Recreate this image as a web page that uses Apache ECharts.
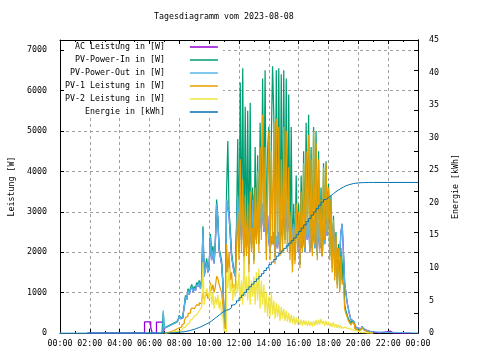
<!DOCTYPE html>
<html><head><meta charset="utf-8">
<script src="https://cdn.jsdelivr.net/npm/echarts@6/dist/echarts.min.js"></script>
<style>html,body{margin:0;padding:0;background:#fff}#c{width:480px;height:360px}</style>
</head><body><div id="c"></div>
<script>
const chartTitle = 'Tagesdiagramm vom 2023-08-08';
const seriesNames = ['AC Leistung in [W]', 'PV-Power-In in [W]', 'PV-Power-Out in [W]', 'PV-1 Leistung in [W]', 'PV-2 Leistung in [W]', 'Energie in [kWh]'];
const leftAxisName = 'Leistung [W]';
const rightAxisName = 'Energie [kWh]';
const xTickLabels = ['00:00','02:00','04:00','06:00','08:00','10:00','12:00','14:00','16:00','18:00','20:00','22:00','00:00'];

// 5-minute samples from 07:00 to 21:00 (one row per hour)
const dayStart = '07:00';
const dayStepMin = 5;

const acPower = [
 120,150,170,180,200,210,230,240,250,270,300,320,
 420,350,380,450,650,900,820,1050,950,1080,1150,1020,
 1100,1050,1200,1150,1250,1100,1300,2580,1400,1600,1750,1500,
 1650,2380,1800,2050,1720,2250,3200,2800,2050,1880,1700,1250,
 300,200,3300,3100,2900,2400,1900,1700,1500,1400,2500,3400,
 2600,3000,2300,3200,2200,2800,2100,2600,2000,2700,2200,3430,
 2530,2900,2300,3000,2500,3100,2600,3200,2500,3000,2400,2900,
 2300,2000,2400,2200,2500,1900,2400,2100,2500,2000,2800,2400,
 3300,2600,3200,2500,3000,2400,2900,2380,2700,2300,3000,2500,
 2400,1700,2500,2100,2600,2000,2700,2300,2800,2000,2600,2100,
 2800,2100,2900,2000,2700,2100,2600,1900,2700,2200,2800,2400,
 3500,2800,2900,2400,2600,2000,2300,1800,2100,1900,2500,2700,
 2000,1250,1000,750,600,450,330,300,260,200,150,120,
 110,100,130,160,110,80,60,50,65,35,30,30,
 0];
const pvPowerIn = [
 130,160,180,190,210,220,240,250,260,280,310,330,
 440,370,400,470,680,930,850,1100,980,1120,1200,1060,
 1150,1100,1250,1200,1300,1150,1350,2640,1450,1650,1850,1560,
 1700,2450,1850,2150,1800,2300,3300,2850,2100,1950,1800,1300,
 350,250,3500,4750,3000,2600,2000,1750,1550,1450,2700,4800,
 2000,6200,2200,6550,1800,5600,2000,5500,1700,5700,2100,3600,
 1800,4600,2400,4400,2200,5200,2500,6300,2800,6500,2000,4500,
 5100,2000,4800,6600,5400,1900,6500,2300,6550,2100,6400,2200,
 6500,2300,6300,2100,5900,2000,5100,1700,3200,1800,3900,2200,
 3200,1700,3900,2100,4500,2200,5200,2500,5400,2100,4600,2000,
 5100,2300,5000,1900,4500,2100,3600,2000,4200,2400,4250,2600,
 3700,1900,3400,1600,2900,1400,2500,1200,2200,1100,2100,1300,
 2000,700,550,450,350,300,250,300,260,150,100,80,
 60,80,120,150,100,60,40,30,20,15,10,10,
 0];
const pvPowerOut = [
 120,150,170,180,200,210,230,240,250,270,300,320,
 420,350,380,450,650,900,820,1050,950,1080,1150,1020,
 1100,1050,1200,1150,1250,1100,1300,2580,1400,1600,1750,1500,
 1650,2380,1800,2050,1720,2250,3200,2800,2050,1880,1700,1250,
 300,200,3300,3100,2900,2400,1900,1700,1500,1400,2500,3400,
 2600,3000,2300,3200,2200,2800,2100,2600,2000,2700,2200,3300,
 2450,2900,2300,3000,2500,3100,2600,3200,2500,3000,2400,2900,
 2300,2000,2400,2200,2500,1900,2400,2100,2500,2000,2800,2400,
 3300,2600,3200,2500,3000,2400,2900,2250,2700,2300,3000,2500,
 2400,1700,2500,2100,2600,2000,2700,2300,2800,2000,2600,2100,
 2800,2100,2900,2000,2700,2100,2600,1900,2700,2200,2800,2400,
 3500,2800,2900,2400,2600,2000,2300,1800,2100,1900,2500,2700,
 2000,1250,1000,750,600,450,330,300,260,200,150,120,
 110,100,130,160,110,80,60,50,40,35,30,30,
 0];
const pv1Power = [
 0,0,0,20,30,40,50,60,80,100,110,130,
 130,150,200,240,300,380,420,480,500,560,620,600,
 620,650,700,680,750,720,800,1000,830,900,1000,850,
 900,1250,1050,1200,1000,1150,1400,1350,1200,1100,1000,700,
 150,100,2200,1500,2000,1300,1500,1100,1200,1000,2000,3000,
 1800,4300,2000,3800,1600,3400,1900,3200,1500,3500,2000,2600,
 1700,3600,2200,4000,2000,4600,2300,5400,2600,4600,1800,3700,
 5000,1800,4500,2200,5200,1700,5300,2100,5100,1900,4300,2000,
 5100,2200,5000,2000,4100,1800,3000,1500,2600,1700,3200,2000,
 3000,1600,3500,2000,4200,2100,4500,2400,4900,2000,4300,1900,
 5000,2200,4700,1800,4300,2000,3300,1900,4100,2300,4200,2500,
 3600,1800,3300,1500,2800,1300,2400,1100,2100,1000,1900,1200,
 1300,600,480,400,300,250,200,260,220,120,80,60,
 50,70,100,130,80,50,30,20,15,10,5,5,
 0];
const pv2Power = [
 0,0,0,10,20,20,30,30,40,40,50,50,
 60,70,90,120,150,180,200,240,280,320,360,400,
 420,450,480,500,550,600,650,1750,700,900,1100,1000,
 850,1200,700,1000,600,900,700,950,600,800,450,400,
 60,30,1500,1100,1600,1000,1300,800,1200,900,1300,1000,
 1500,800,1300,700,1900,900,1400,800,1500,700,1300,900,
 1400,700,1500,800,1600,600,1300,700,1200,500,1000,400,
 900,400,1000,450,800,350,750,400,700,300,650,350,
 600,300,550,280,500,250,450,230,420,200,380,220,
 350,200,330,180,320,200,300,170,300,180,280,160,
 300,180,320,200,330,210,350,220,300,180,300,190,
 280,160,250,150,270,140,220,130,200,120,180,110,
 150,130,120,140,110,100,80,90,70,60,50,40,
 30,20,10,20,10,5,0,0,0,0,0,0,
 0];

// 10-minute samples of the daily energy from 07:00 to 21:00
const energyStart = '07:00';
const energyStepMin = 10;
const energyKWh = [
 0.00,0.01,0.03,0.05,0.08,0.11,
 0.15,0.20,0.27,0.35,0.45,0.57,
 0.70,0.85,1.00,1.20,1.40,1.60,
 1.85,2.15,2.45,2.75,3.05,3.35,
 3.50,3.60,3.90,4.30,4.60,4.95,
 5.40,5.80,6.25,6.70,7.10,7.50,
 7.90,8.30,8.70,9.10,9.60,10.00,
 10.50,10.90,11.30,11.80,12.20,12.60,
 13.00,13.40,13.80,14.20,14.60,15.10,
 15.60,16.10,16.60,17.10,17.60,18.10,
 18.60,19.10,19.60,20.10,20.50,20.80,
 21.10,21.40,21.70,21.95,22.20,22.40,
 22.60,22.75,22.85,22.95,23.00,23.05,
 23.08,23.10,23.10,23.12,23.12,23.12,
 23.12];

// readings outside the daytime grid: [time, value]
const acNight1 = [['01:50',0],['05:40',273],['06:05',130],['06:11',0],['06:28',270],['06:55',0]];
const acNight2 = [['21:25',45],['22:10',0],['22:20',45],['22:23',0],['22:43',45],['22:46',0],['23:13',45],['23:16',0],['23:30',0]];
const pvInEarly = [['06:50',0],['06:55',500]];
const pvOutEarly = [['00:00',0],['06:55',560]];
const pvOutLate = [['24:00',0]];
const energyEarly = [['01:50',0]];
const energyLate = [['24:00',23.12]];

const colors = ['#9400d3','#009e73','#56b4e9','#e69f00','#f0e442','#0072b2'];
const FONT = 'DejaVu Sans Mono';
const FS = 8.3;

function hm(s){ const p = s.split(':').map(Number); return p[0] + p[1]/60; }
function grid(vals, start, step){ const t0 = hm(start); return vals.map((v,i)=>[t0 + i*step/60, v]); }
function pairs(list){ return list.map(p=>[hm(p[0]), p[1]]); }

const seriesData = [
  pairs(acNight1).concat(grid(acPower, dayStart, dayStepMin), pairs(acNight2)),
  pairs(pvInEarly).concat(grid(pvPowerIn, dayStart, dayStepMin)),
  pairs(pvOutEarly).concat(grid(pvPowerOut, dayStart, dayStepMin), pairs(pvOutLate)),
  grid(pv1Power, dayStart, dayStepMin),
  grid(pv2Power, dayStart, dayStepMin),
  pairs(energyEarly).concat(grid(energyKWh, energyStart, energyStepMin), pairs(energyLate))
];

const dash = {color:'#a0a0a0', width:1, type:[3,3]};
const black = {color:'#000', width:1};
const txt = {fontFamily: FONT, fontSize: FS, color:'#000'};

const chart = echarts.init(document.getElementById('c'), null, {renderer:'canvas'});
chart.setOption({
  animation:false,
  backgroundColor:'#fff',
  title:{text: chartTitle, left:154, top:13, padding:0, textStyle:Object.assign({fontWeight:'normal'}, txt)},
  grid:{left:58, right:62, top:40, bottom:27, containLabel:false},
  legend:{
    orient:'vertical', align:'right', left:65, top:42, padding:0, itemGap:3,
    itemWidth:28, itemHeight:1.5, icon:'rect', selectedMode:false,
    formatter: n => n + '    ',
    textStyle:Object.assign({lineHeight:10}, txt),
    data: seriesNames
  },
  graphic:[{type:'rect', z:1, shape:{x:64, y:46, width:159, height:72}, style:{fill:'#fff'}, silent:true}],
  xAxis:[
    {type:'value', position:'bottom', min:0, max:24, interval:2,
     axisLine:{show:true, onZero:false, lineStyle:black},
     axisTick:{show:true, inside:true, length:4, lineStyle:black},
     minorTick:{show:true, splitNumber:2, length:2, lineStyle:black},
     splitLine:{show:true, lineStyle:dash},
     axisLabel:Object.assign({margin:7, formatter:(v)=>xTickLabels[Math.round(v/2)]}, txt)},
    {type:'value', position:'top', min:0, max:24, interval:2,
     axisLine:{show:true, onZero:false, lineStyle:black},
     axisTick:{show:true, inside:true, length:4, lineStyle:black},
     minorTick:{show:true, splitNumber:2, length:2, lineStyle:black},
     splitLine:{show:false}, axisLabel:{show:false}}
  ],
  yAxis:[
    {type:'value', position:'left', min:0, max:7250, interval:1000,
     name:leftAxisName, nameLocation:'middle', nameGap:44, nameRotate:90, nameTextStyle:txt,
     axisLine:{show:true, onZero:false, lineStyle:black},
     axisTick:{show:true, inside:true, length:4, lineStyle:black},
     minorTick:{show:false},
     splitLine:{show:true, lineStyle:dash},
     axisLabel:Object.assign({margin:13, showMaxLabel:false, formatter:v=> (v%1000===0? String(v):'')}, txt)},
    {type:'value', position:'right', min:0, max:45, interval:5,
     name:rightAxisName, nameLocation:'middle', nameGap:34, nameRotate:90, nameTextStyle:txt,
     axisLine:{show:true, onZero:false, lineStyle:black},
     axisTick:{show:false}, splitLine:{show:false},
     axisLabel:Object.assign({margin:11}, txt)},
    {type:'value', position:'right', min:0, max:7250, interval:1000,
     axisLine:{show:true, onZero:false, lineStyle:black},
     axisTick:{show:true, inside:true, length:4, lineStyle:black},
     minorTick:{show:true, splitNumber:2, length:4, lineStyle:black},
     splitLine:{show:false}, axisLabel:{show:false}}
  ],
  series: seriesNames.map((n,i)=>({
    name:n, type:'line', xAxisIndex:0, yAxisIndex: i===5?1:0,
    data: seriesData[i], step:'end', symbol:'none', showSymbol:false,
    lineStyle:{width: i===5 ? 1 : 1.25, color:colors[i]}, itemStyle:{color:colors[i]},
    emphasis:{disabled:true}, z:2+i*0.01
  }))
});
</script></body></html>
